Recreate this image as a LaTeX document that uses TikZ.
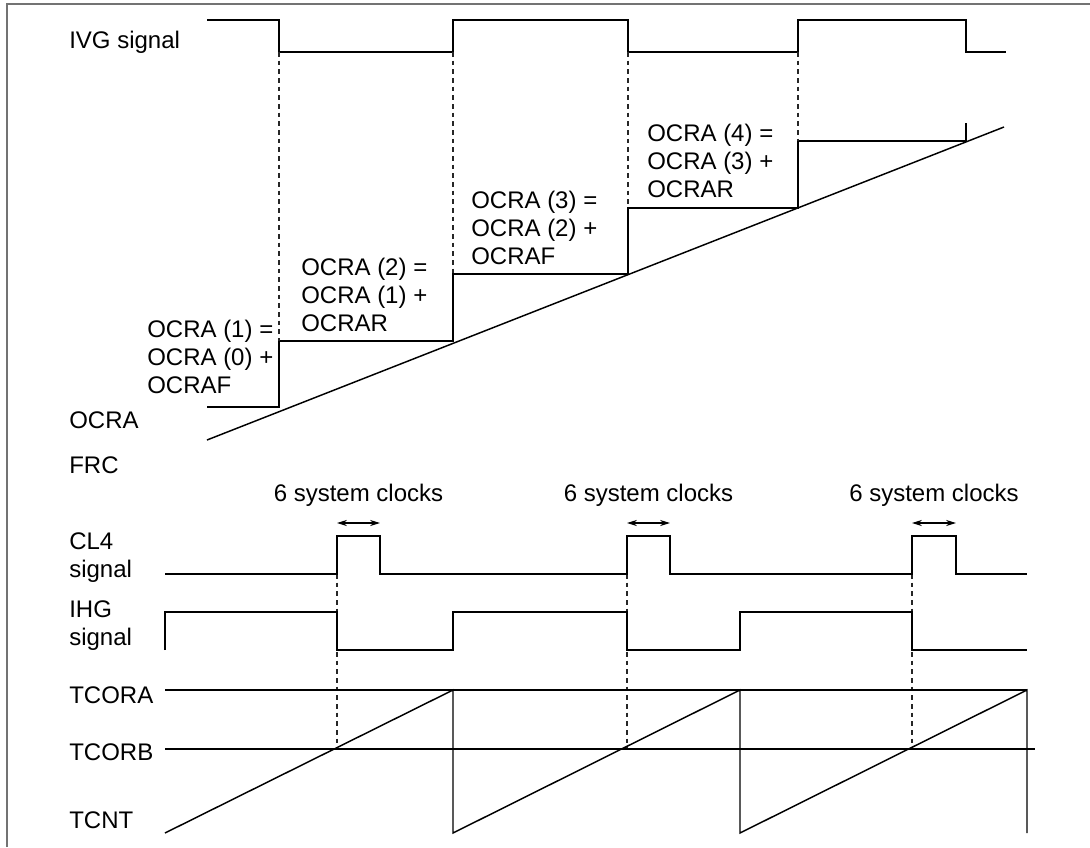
\documentclass[tikz,border=0pt]{standalone}
\usepackage{fontspec}
\setmainfont{Liberation Sans}
\usetikzlibrary{arrows.meta,positioning,calc}
\tikzset{
  >={Stealth[length=2.6mm,width=1.6mm]},
  % signale
  sig/.style={draw=black,line width=1.3pt,line join=miter},
  ramp/.style={draw=black,line width=1.1pt},
  guide/.style={draw=black!85,line width=0.8pt,dash pattern=on 3.5pt off 3pt},
  span/.style={<->,draw=black,line width=0.9pt},
  frame/.style={draw=black!55,line width=1.2pt},
  lbl/.style={font=\fontsize{18}{21}\selectfont,inner sep=0pt,anchor=west,align=left},
  clk/.style={font=\fontsize{18}{21}\selectfont,inner sep=0pt},
}

\begin{document}
\begin{tikzpicture}[x=0.75pt,y=-0.75pt]
  \useasboundingbox (0,0) rectangle (1090,847);
  \draw[frame] (7,847) -- (7,4) -- (1090,4);
  % IVG
  \node[lbl] (ivg) at (69,42) {IVG signal};
  \draw[sig] (207,20) -- (279,20) -- (279,52) -- (453,52) -- (453,20) -- (628,20)
    -- (628,52) -- (798,52) -- (798,20) -- (966,20) -- (966,52) -- (1006,52);
  % OCRA / FRC
  \draw[sig] (207,407) -- (279,407) -- (279,341) -- (453,341) -- (453,274)
    -- (628,274) -- (628,208) -- (798,208) -- (798,141) -- (966,141) -- (966,123);
  \draw[ramp] (207,440) -- (1004,127);
  \foreach \x/\y in {279/341,453/274,628/208,798/141}
    \draw[guide] (\x,52) -- (\x,\y);
  \node[lbl] (ocra1) at (147,357) {OCRA (1) =\\OCRA (0) +\\OCRAF};
  \node[lbl] (ocra2) at (301,295) {OCRA (2) =\\OCRA (1) +\\OCRAR};
  \node[lbl] (ocra3) at (471,228) {OCRA (3) =\\OCRA (2) +\\OCRAF};
  \node[lbl] (ocra4) at (647,161) {OCRA (4) =\\OCRA (3) +\\OCRAR};
  \node[lbl] (ocra) at (69,420) {OCRA};
  \node[lbl] (frc) at (69,465) {FRC};
  % CL4 / IHG
  \foreach \a/\b [count=\i] in {337/380,627/670,912/956}{
    \coordinate (s\i) at (\a,523);
    \coordinate (e\i) at (\b,523);
    \draw[span] (s\i) -- (e\i);
    \node[clk] (clk\i) at ($(s\i)!0.5!(e\i)+(0,-28)$) {6 system clocks};
    \draw[guide] (\a,574) -- (\a,749);
  }
  \node[lbl] (cl4) at (69,558) {CL4\\signal};
  \draw[sig] (165,574) -- (337,574) -- (337,536) -- (380,536) -- (380,574) -- (627,574)
    -- (627,536) -- (670,536) -- (670,574) -- (912,574) -- (912,536) -- (956,536)
    -- (956,574) -- (1027,574);
  \node[lbl] (ihg) at (69,626) {IHG\\signal};
  \draw[sig] (165,650) -- (165,612) -- (337,612) -- (337,650) -- (453,650) -- (453,612)
    -- (627,612) -- (627,650) -- (740,650) -- (740,612) -- (912,612) -- (912,650)
    -- (1027,650);
  % TCORA / TCORB / TCNT
  \node[lbl] (tcora) at (69,695) {TCORA};
  \node[lbl] (tcorb) at (69,752) {TCORB};
  \node[lbl] (tcnt) at (69,820) {TCNT};
  \draw[ramp] (165,690) -- (1027,690);
  \draw[ramp] (165,749) -- (1035,749);
  \draw[ramp] (165,833) -- (453,690) -- (453,833) -- (740,690) -- (740,833)
    -- (1027,690) -- (1027,833);
\end{tikzpicture}
\end{document}
